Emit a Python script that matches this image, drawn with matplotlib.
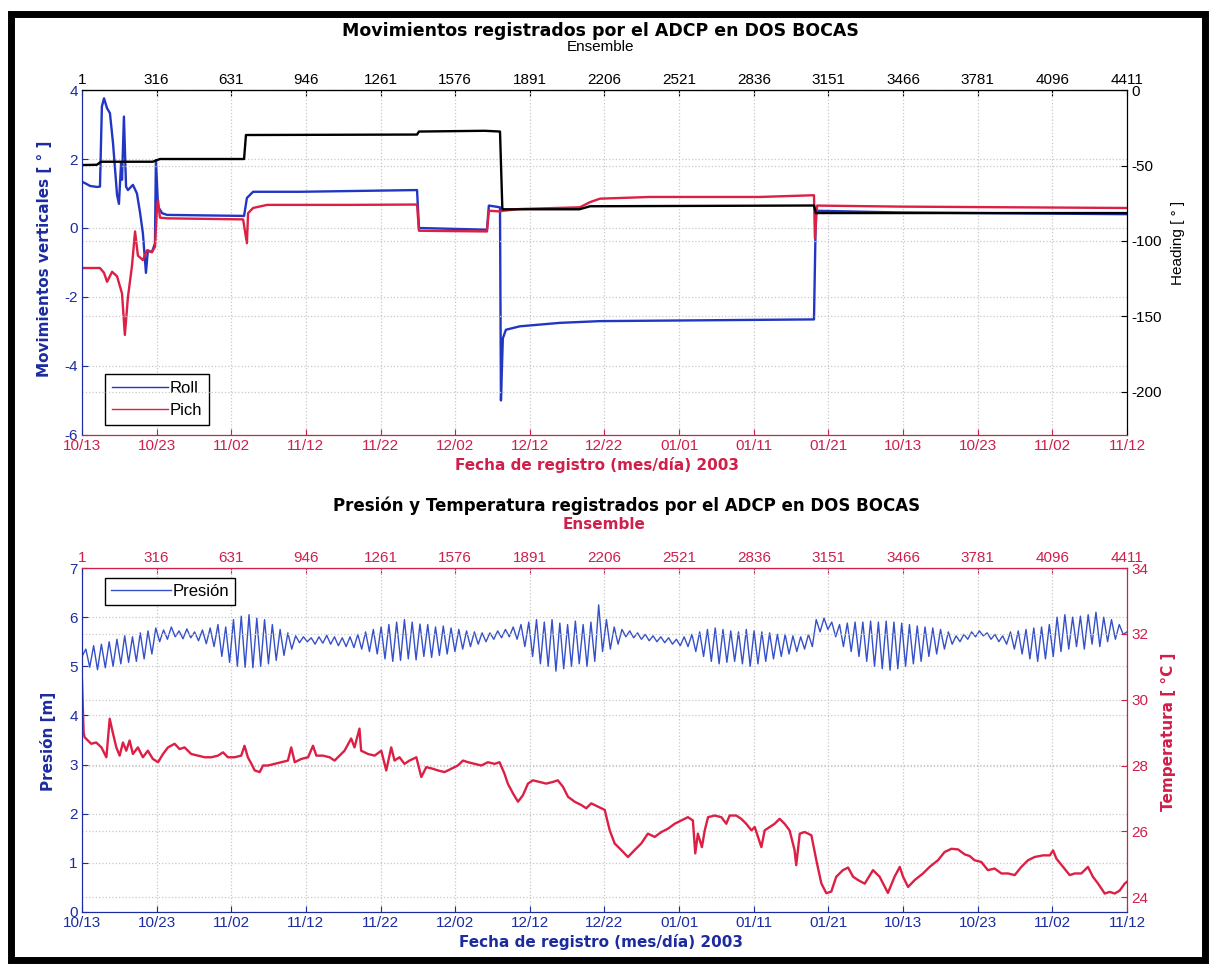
import matplotlib.pyplot as plt
import numpy as np
from matplotlib.patches import Rectangle

plt.rcParams['axes.unicode_minus'] = False

# --- axis ticks (ensemble number) and date labels ---
ens_ticks = [1, 316, 631, 946, 1261, 1576, 1891, 2206, 2521, 2836, 3151, 3466, 3781, 4096, 4411]
date_labels = ['10/13', '10/23', '11/02', '11/12', '11/22', '12/02', '12/12', '12/22',
               '01/01', '01/11', '01/21', '10/13', '10/23', '11/02', '11/12']

# --- top panel: roll / pitch (deg) and heading (deg) vs ensemble ---
roll_ens = [1, 14, 35, 64, 77, 85, 94, 107, 119, 132, 149, 157, 166, 170, 178, 187, 195, 216,
            233, 246, 258, 271, 279, 296, 309, 313, 322, 339, 360, 685, 697, 723, 921, 1415,
            1423, 1710, 1718, 1765, 1769, 1777, 1790, 1849, 2018, 2187, 3090, 3098, 3453, 4411]
roll_val = [1.34, 1.3, 1.22, 1.19, 1.2, 3.52, 3.76, 3.47, 3.33, 2.46, 0.96, 0.7, 1.88, 1.4,
            3.23, 1.2, 1.1, 1.25, 1.0, 0.45, -0.15, -1.3, -0.65, -0.7, -0.45, 1.97, 0.62, 0.43,
            0.38, 0.35, 0.87, 1.05, 1.05, 1.1, 0.0, -0.05, 0.65, 0.6, -5.0, -3.2, -2.95, -2.85,
            -2.75, -2.7, -2.65, 0.5, 0.45, 0.4]

pitch_ens = [1, 77, 94, 107, 128, 149, 170, 182, 195, 212, 225, 237, 258, 275, 296, 309, 318,
             322, 330, 360, 681, 697, 702, 723, 782, 1132, 1415, 1423, 1710, 1718, 1765, 1777,
             1849, 2102, 2145, 2187, 2398, 2862, 3090, 3094, 3103, 3453, 4411]
pitch_val = [-1.16, -1.16, -1.3, -1.56, -1.27, -1.4, -1.9, -3.1, -2.0, -1.1, -0.1, -0.8, -0.93,
             -0.65, -0.7, -0.55, 0.62, 0.8, 0.3, 0.28, 0.25, -0.44, 0.43, 0.58, 0.67, 0.67, 0.68,
             -0.08, -0.1, 0.5, 0.48, 0.5, 0.55, 0.6, 0.75, 0.85, 0.9, 0.9, 0.95, -0.3, 0.65, 0.62,
             0.58]

head_ens = [1, 64, 81, 300, 330, 685, 693, 1415, 1423, 1700, 1765, 1775, 2100, 2145, 3090, 3098, 4411]
head_val = [-49.7, -49.5, -47.5, -47.5, -45.7, -45.7, -29.8, -29.5, -27.5, -27.0, -27.5, -79.0,
            -79.0, -77.0, -76.5, -81.5, -81.5]

# --- bottom panel: pressure (m), tidal highs and lows per cycle ---
pres_start, pres_end = 5.2, 5.7
pres_hi = [5.35, 5.42, 5.45, 5.5, 5.55, 5.62, 5.6, 5.68, 5.72,
           5.78, 5.74, 5.8, 5.72, 5.76, 5.7, 5.74, 5.78,
           5.85, 5.8, 5.95, 6.02, 6.05, 5.98, 5.95, 5.85, 5.75, 5.68,
           5.62, 5.6, 5.58, 5.6, 5.63, 5.6, 5.58, 5.6, 5.65, 5.7,
           5.75, 5.8, 5.85, 5.9, 5.95, 5.9, 5.86, 5.85, 5.8, 5.82, 5.78, 5.75, 5.72, 5.7, 5.68,
           5.68, 5.72, 5.75, 5.8,
           5.85, 5.9, 5.95, 5.9, 5.95, 5.88, 5.85, 5.92, 5.85, 5.9, 6.25, 5.95, 5.8,
           5.75, 5.72, 5.68, 5.65, 5.62, 5.6, 5.58, 5.55, 5.6,
           5.65, 5.7, 5.75, 5.78, 5.75, 5.72, 5.7, 5.75, 5.72, 5.7, 5.68, 5.65, 5.65, 5.62, 5.6, 5.65,
           5.95, 5.98, 5.9,
           5.85, 5.88, 5.9, 5.9, 5.92, 5.9, 5.92, 5.9, 5.88, 5.85, 5.82, 5.8, 5.78, 5.75, 5.7,
           5.62, 5.65, 5.7, 5.72, 5.68, 5.65, 5.62,
           5.7, 5.72, 5.75, 5.78, 5.8, 5.85,
           6.0, 6.05, 6.0, 6.02, 6.05, 6.1, 6.0, 5.95, 5.85]
pres_lo = [4.98, 4.93, 4.97, 5.0, 5.05, 5.08, 5.1, 5.15, 5.25,
           5.5, 5.55, 5.6, 5.56, 5.58, 5.52, 5.46, 5.4,
           5.2, 5.08, 5.0, 4.98, 4.97, 5.0, 5.05, 5.12, 5.22, 5.35,
           5.48, 5.5, 5.45, 5.47, 5.45, 5.42, 5.4, 5.38, 5.35, 5.3,
           5.25, 5.15, 5.1, 5.12, 5.15, 5.13, 5.2, 5.18, 5.22, 5.25, 5.3, 5.35, 5.4, 5.45, 5.5,
           5.55, 5.58, 5.6, 5.55,
           5.4, 5.2, 5.05, 5.0, 4.9, 4.95, 5.0, 5.05, 5.0, 5.1, 5.3, 5.35, 5.45,
           5.6, 5.58, 5.55, 5.52, 5.5, 5.48, 5.45, 5.42, 5.4,
           5.3, 5.2, 5.1, 5.05, 5.08, 5.1, 5.05, 5.0, 5.05, 5.1, 5.15, 5.2, 5.25, 5.3, 5.35, 5.4,
           5.7, 5.75, 5.6,
           5.4, 5.3, 5.2, 5.1, 5.0, 4.95, 4.92, 4.95, 5.0, 5.05, 5.1, 5.2, 5.25, 5.35, 5.45,
           5.5, 5.55, 5.6, 5.62, 5.55, 5.5, 5.45,
           5.35, 5.25, 5.15, 5.1, 5.15, 5.2,
           5.3, 5.35, 5.4, 5.35, 5.45, 5.4, 5.5, 5.55, 5.65]

# --- bottom panel: temperature (degC) ---
temp_ens = [1, 8, 12, 40, 61, 83, 104, 118, 132, 146, 160, 174, 188, 202, 216, 237, 258, 279,
            300, 322, 343, 364, 392, 413, 434, 462, 490, 519, 547, 575, 596, 617, 645, 673, 687,
            701, 716, 730, 751, 765, 786, 814, 842, 870, 884, 899, 927, 955, 976, 990, 1018,
            1046, 1067, 1081, 1109, 1137, 1151, 1172, 1179, 1208, 1236, 1264, 1285, 1306, 1320,
            1341, 1362, 1383, 1412, 1433, 1454, 1482, 1503, 1531, 1559, 1587, 1609, 1630, 1658,
            1686, 1714, 1742, 1763, 1784, 1798, 1820, 1841, 1862, 1883, 1904, 1932, 1960, 1988,
            2009, 2031, 2052, 2080, 2108, 2129, 2150, 2178, 2207, 2228, 2249, 2277, 2305, 2333,
            2361, 2389, 2418, 2446, 2474, 2502, 2530, 2558, 2579, 2589, 2600, 2617, 2629, 2643,
            2671, 2699, 2720, 2734, 2762, 2783, 2804, 2826, 2840, 2868, 2882, 2903, 2924, 2945,
            2966, 2987, 3008, 3015, 3030, 3051, 3079, 3100, 3121, 3142, 3163, 3184, 3212, 3234,
            3255, 3276, 3304, 3339, 3367, 3402, 3430, 3452, 3466, 3487, 3515, 3550, 3578, 3613,
            3641, 3670, 3698, 3726, 3747, 3768, 3796, 3824, 3852, 3881, 3909, 3937, 3965, 3993,
            4021, 4056, 4085, 4099, 4113, 4141, 4169, 4190, 4218, 4246, 4267, 4289, 4317, 4338,
            4359, 4380, 4401, 4411]
temp_val = [30.6, 29.0, 28.86, 28.66, 28.7, 28.55, 28.25, 29.42, 28.97, 28.55, 28.3, 28.7,
            28.45, 28.76, 28.35, 28.55, 28.25, 28.45, 28.2, 28.1, 28.35, 28.55, 28.66, 28.5,
            28.55, 28.35, 28.3, 28.25, 28.25, 28.3, 28.4, 28.25, 28.25, 28.3, 28.6, 28.25,
            28.05, 27.85, 27.8, 28.0, 28.0, 28.05, 28.1, 28.15, 28.55, 28.1, 28.2, 28.25, 28.6,
            28.3, 28.3, 28.25, 28.15, 28.25, 28.45, 28.82, 28.55, 29.12, 28.45, 28.35, 28.3,
            28.45, 27.85, 28.55, 28.15, 28.25, 28.05, 28.15, 28.25, 27.65, 27.95, 27.9, 27.85,
            27.8, 27.9, 28.0, 28.15, 28.1, 28.05, 28.0, 28.1, 28.05, 28.1, 27.75, 27.45, 27.15,
            26.9, 27.1, 27.45, 27.55, 27.5, 27.45, 27.5, 27.55, 27.35, 27.05, 26.9, 26.8, 26.7,
            26.85, 26.75, 26.65, 26.03, 25.63, 25.43, 25.22, 25.43, 25.63, 25.93, 25.83, 25.98,
            26.08, 26.23, 26.33, 26.43, 26.33, 25.33, 25.93, 25.52, 26.03, 26.43, 26.48, 26.43,
            26.23, 26.48, 26.48, 26.38, 26.23, 26.03, 26.13, 25.52, 26.03, 26.13, 26.23, 26.38,
            26.23, 26.03, 25.43, 24.97, 25.93, 25.98, 25.88, 25.12, 24.42, 24.12, 24.17, 24.62,
            24.82, 24.9, 24.62, 24.52, 24.41, 24.82, 24.62, 24.13, 24.62, 24.92, 24.62, 24.31,
            24.52, 24.72, 24.92, 25.12, 25.37, 25.47, 25.45, 25.3, 25.25, 25.12, 25.07, 24.82,
            24.87, 24.72, 24.72, 24.67, 24.92, 25.12, 25.22, 25.27, 25.27, 25.42, 25.17, 24.92,
            24.67, 24.72, 24.72, 24.92, 24.62, 24.41, 24.11, 24.16, 24.11, 24.2, 24.41, 24.47]

# colours
BLUE_LINE = '#2236c4'
PRES_LINE = '#3550c8'
RED_LINE = '#dc1f44'
BLUE_TXT = '#1c2ca0'
RED_TXT = '#d01f4a'
GRID = '#c8c8c8'
TICKFONT = 'Liberation Sans'

fig = plt.figure(figsize=(12.09, 9.67), dpi=100)


def style_axes(ax, axr, top, left_c, right_c, bottom_c, top_c):
    ax.set_xlim(1, 4411)
    ax.set_xticks(ens_ticks)
    ax.set_xticklabels(date_labels, color=bottom_c, fontsize=11, family=TICKFONT)
    top.set_xticks(ens_ticks, labels=[str(e) for e in ens_ticks])
    for lab in top.get_xticklabels():
        lab.set_color(top_c)
        lab.set_fontsize(11)
        lab.set_family(TICKFONT)
    ax.tick_params(axis='x', direction='in', length=4, color=bottom_c, pad=3)
    top.tick_params(axis='x', direction='in', length=4, color=top_c, pad=2)
    ax.tick_params(axis='y', direction='in', length=4, color=left_c, labelcolor=left_c,
                   labelsize=11, pad=3)
    axr.tick_params(axis='y', direction='in', length=4, color=right_c, labelcolor=right_c,
                    labelsize=11, pad=3)
    for lab in ax.get_yticklabels() + axr.get_yticklabels():
        lab.set_family(TICKFONT)
    for a in (ax, axr):
        a.spines['left'].set_color(left_c)
        a.spines['right'].set_color(right_c)
        a.spines['bottom'].set_color(bottom_c)
        a.spines['top'].set_color(top_c)
    top.spines['top'].set_color(top_c)
    ax.grid(True, linestyle=':', color=GRID, linewidth=0.9)
    axr.grid(True, axis='y', linestyle=':', color=GRID, linewidth=0.9)


# ================= top panel =================
ax1 = fig.add_axes([0.0678, 0.5502, 0.8644, 0.3567])
ax1.plot(roll_ens, roll_val, color=BLUE_LINE, lw=1.7, label='Roll')
ax1.plot(pitch_ens, pitch_val, color=RED_LINE, lw=1.7, label='Pich')
ax1.set_ylim(-6, 4)
ax1.set_yticks([-6, -4, -2, 0, 2, 4])
ax1r = ax1.twinx()
ax1r.plot(head_ens, head_val, color='black', lw=1.7)
ax1r.set_ylim(-228.5, 0)
ax1r.set_yticks([-200, -150, -100, -50, 0])
top1 = ax1.secondary_xaxis('top')
style_axes(ax1, ax1r, top1, BLUE_TXT, 'black', RED_TXT, 'black')
ax1r.tick_params(axis='y', labelcolor='black')

leg1 = ax1.legend(loc='lower left', bbox_to_anchor=(0.022, 0.029), borderaxespad=0,
                  fancybox=False, edgecolor='black', framealpha=1, handlelength=3.4,
                  handletextpad=0.1, labelspacing=0.45, borderpad=0.4,
                  prop={'family': TICKFONT, 'size': 12})
leg1.get_frame().set_linewidth(1.0)
for ln in leg1.get_lines():
    ln.set_linewidth(1.0)

# ================= bottom panel =================
pres = [pres_start]
for h, l in zip(pres_hi, pres_lo):
    pres += [h, l]
pres.append(pres_end)
pres_ens = np.linspace(1, 4411, len(pres))

ax2 = fig.add_axes([0.0678, 0.0569, 0.8644, 0.3557])
ax2.plot(pres_ens, pres, color=PRES_LINE, lw=1.0, label='Presión')
ax2.set_ylim(0, 7)
ax2.set_yticks(range(0, 8))
ax2r = ax2.twinx()
ax2r.plot(temp_ens, temp_val, color=RED_LINE, lw=1.7)
ax2r.set_ylim(23.55, 34)
ax2r.set_yticks([24, 26, 28, 30, 32, 34])
top2 = ax2.secondary_xaxis('top')
style_axes(ax2, ax2r, top2, BLUE_TXT, RED_TXT, BLUE_TXT, RED_TXT)

leg2 = ax2.legend(loc='upper left', bbox_to_anchor=(0.022, 0.971), borderaxespad=0,
                  fancybox=False, edgecolor='black', framealpha=1, handlelength=3.6,
                  handletextpad=0.1, borderpad=0.35,
                  prop={'family': TICKFONT, 'size': 12})
leg2.get_frame().set_linewidth(1.0)

# ================= texts =================
fig.text(0.497, 0.968, 'Movimientos registrados por el ADCP en DOS BOCAS', ha='center',
         va='center', fontsize=12.5, fontweight='bold')
fig.text(0.497, 0.951, 'Ensemble', ha='center', va='center', fontsize=11, family=TICKFONT)
fig.text(0.494, 0.519, 'Fecha de registro (mes/día) 2003', ha='center', va='center',
         fontsize=11, fontweight='bold', color=RED_TXT)
fig.text(0.037, 0.732, 'Movimientos verticales [ ° ]', rotation=90, ha='center', va='center',
         fontsize=11, fontweight='bold', color=BLUE_TXT)
fig.text(0.974, 0.749, 'Heading [ ° ]', rotation=90, ha='center', va='center',
         fontsize=11, family=TICKFONT)

fig.text(0.518, 0.4767, 'Presión y Temperatura registrados por el ADCP en DOS BOCAS',
         ha='center', va='center', fontsize=12, fontweight='bold')
fig.text(0.5, 0.458, 'Ensemble', ha='center', va='center', fontsize=11, fontweight='bold',
         color=RED_TXT)
fig.text(0.497, 0.026, 'Fecha de registro (mes/día) 2003', ha='center', va='center',
         fontsize=11, fontweight='bold', color=BLUE_TXT)
fig.text(0.0397, 0.233, 'Presión [m]', rotation=90, ha='center', va='center',
         fontsize=11, fontweight='bold', color=BLUE_TXT)
fig.text(0.9665, 0.243, 'Temperatura [ °C ]', rotation=90, ha='center', va='center',
         fontsize=11, fontweight='bold', color=RED_TXT)

# outer black frame
fig.add_artist(Rectangle((0.0095, 0.0072), 0.9872, 0.9788, transform=fig.transFigure,
                         fill=False, edgecolor='black', linewidth=5))

fig.savefig('out.png', dpi=100)
